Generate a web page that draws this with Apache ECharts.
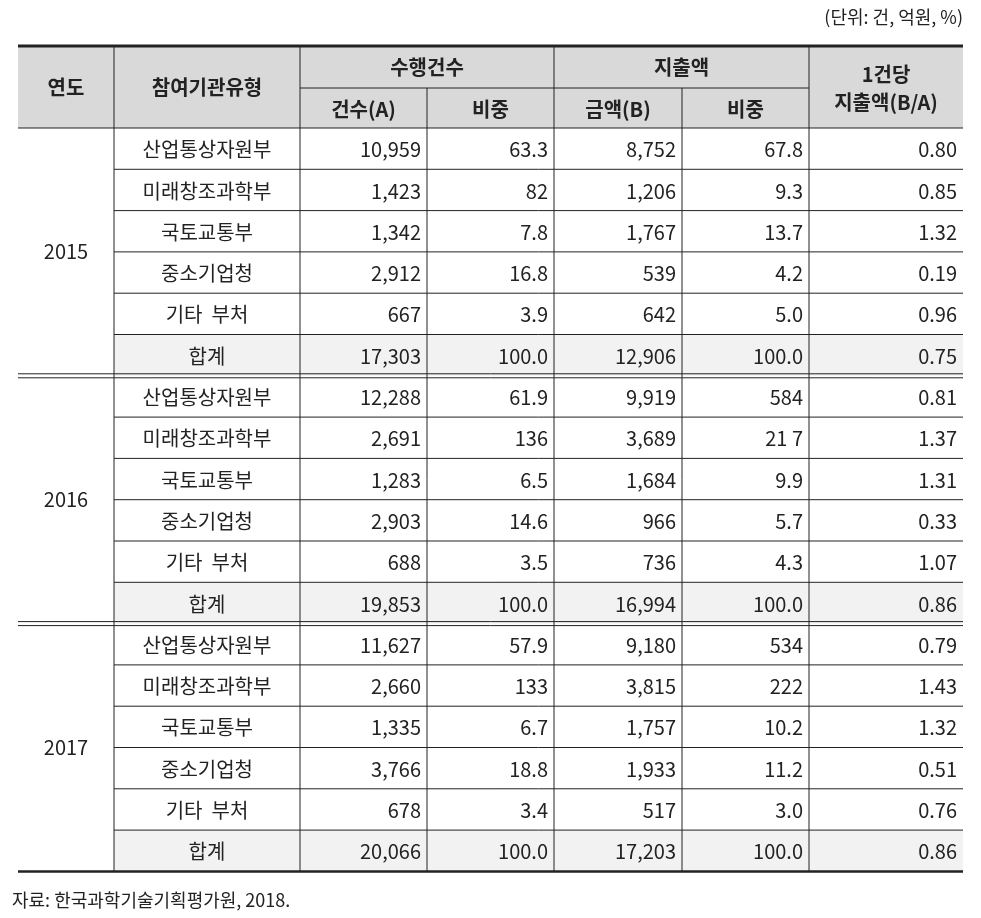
<!DOCTYPE html>
<html>
<head>
<meta charset="UTF-8">
<script src="https://cdn.jsdelivr.net/npm/echarts@6/dist/echarts.min.js"></script>
<style>
  html,body{margin:0;padding:0;background:#fff;}
  #tbl{width:981px;height:918px;}
</style>
</head>
<body>
<div id="tbl"></div>
<script>
var years = ['2015', '2016', '2017'];
var agencies = ['산업통상자원부', '미래창조과학부', '국토교통부', '중소기업청', '기타  부처', '합계'];
// 각 연도별 [건수(A), 비중, 금액(B), 비중, 1건당 지출액]
var rows2015 = [
  ['10,959', '63.3', '8,752', '67.8', '0.80'],
  ['1,423', '82', '1,206', '9.3', '0.85'],
  ['1,342', '7.8', '1,767', '13.7', '1.32'],
  ['2,912', '16.8', '539', '4.2', '0.19'],
  ['667', '3.9', '642', '5.0', '0.96'],
  ['17,303', '100.0', '12,906', '100.0', '0.75']
];
var rows2016 = [
  ['12,288', '61.9', '9,919', '584', '0.81'],
  ['2,691', '136', '3,689', '21 7', '1.37'],
  ['1,283', '6.5', '1,684', '9.9', '1.31'],
  ['2,903', '14.6', '966', '5.7', '0.33'],
  ['688', '3.5', '736', '4.3', '1.07'],
  ['19,853', '100.0', '16,994', '100.0', '0.86']
];
var rows2017 = [
  ['11,627', '57.9', '9,180', '534', '0.79'],
  ['2,660', '133', '3,815', '222', '1.43'],
  ['1,335', '6.7', '1,757', '10.2', '1.32'],
  ['3,766', '18.8', '1,933', '11.2', '0.51'],
  ['678', '3.4', '517', '3.0', '0.76'],
  ['20,066', '100.0', '17,203', '100.0', '0.86']
];
var unitText = '(단위: 건, 억원, %)';
var sourceText = '자료: 한국과학기술기획평가원, 2018.';

var blocks = [rows2015, rows2016, rows2017];
var cols = [18, 114, 300, 427, 554, 682, 809, 963];
var top0 = 46, headMid = 88, bodyTop = 128, rowH = 41.3;
var font = '"Noto Sans CJK KR", sans-serif';
var g = [];

function line(x1, y1, x2, y2, w) {
  g.push({type: 'line', shape: {x1: x1, y1: y1, x2: x2, y2: y2}, style: {stroke: '#222', lineWidth: w || 1}});
}
function rect(x, y, w, h, fill) {
  g.push({type: 'rect', shape: {x: x, y: y, width: w, height: h}, style: {fill: fill}});
}
function text(t, x, y, align, size, bold) {
  g.push({type: 'text', x: x, y: y, style: {text: t, fill: '#222', font: (bold ? 'bold ' : '') + (size || 20) + 'px ' + font, align: align || 'center', verticalAlign: 'middle'}});
}

// header
rect(cols[0], top0, cols[7] - cols[0], bodyTop - top0, '#d9d9d9');
var bodyEnd = bodyTop + rowH * 18;
blocks.forEach(function (b, bi) {
  rect(cols[1], bodyTop + rowH * (bi * 6 + 5), cols[7] - cols[1], rowH, '#f2f2f2');
});
text('연도', (cols[0] + cols[1]) / 2, (top0 + bodyTop) / 2, 'center', 20, true);
text('참여기관유형', (cols[1] + cols[2]) / 2, (top0 + bodyTop) / 2, 'center', 20, true);
text('수행건수', (cols[2] + cols[4]) / 2, (top0 + headMid) / 2, 'center', 20, true);
text('지출액', (cols[4] + cols[6]) / 2, (top0 + headMid) / 2, 'center', 20, true);
text('1건당', (cols[6] + cols[7]) / 2, 74, 'center', 20, true);
text('지출액(B/A)', (cols[6] + cols[7]) / 2, 102, 'center', 20, true);
['건수(A)', '비중', '금액(B)', '비중'].forEach(function (t, i) {
  text(t, (cols[i + 2] + cols[i + 3]) / 2, (headMid + bodyTop) / 2 + 1, 'center', 20, true);
});
line(cols[2], headMid, cols[6], headMid);
for (var c = 1; c < 7; c++) {
  line(cols[c], (c === 3 || c === 5) ? headMid : top0, cols[c], bodyEnd);
}

// body
blocks.forEach(function (b, bi) {
  var y0 = bodyTop + rowH * bi * 6;
  text(years[bi], (cols[0] + cols[1]) / 2, y0 + rowH * 3);
  b.forEach(function (r, ri) {
    var yc = y0 + rowH * ri + rowH / 2 + 1;
    text(agencies[ri], (cols[1] + cols[2]) / 2, yc);
    r.forEach(function (v, vi) { text(v, cols[vi + 3] - 6, yc, 'right'); });
    if (ri < 5) line(cols[1], y0 + rowH * (ri + 1), cols[7], y0 + rowH * (ri + 1));
  });
  if (bi > 0) {
    line(cols[0], y0 - 2, cols[7], y0 - 2);
    line(cols[0], y0 + 2, cols[7], y0 + 2);
  }
});
line(cols[0], top0, cols[7], top0, 3);
line(cols[0], bodyTop, cols[7], bodyTop, 1.2);
line(cols[0], bodyEnd, cols[7], bodyEnd, 2.5);
text(unitText, 963, 17, 'right', 18);
text(sourceText, 12, 900, 'left', 18);

var chart = echarts.init(document.getElementById('tbl'));
chart.setOption({graphic: g});
</script>
</body>
</html>
